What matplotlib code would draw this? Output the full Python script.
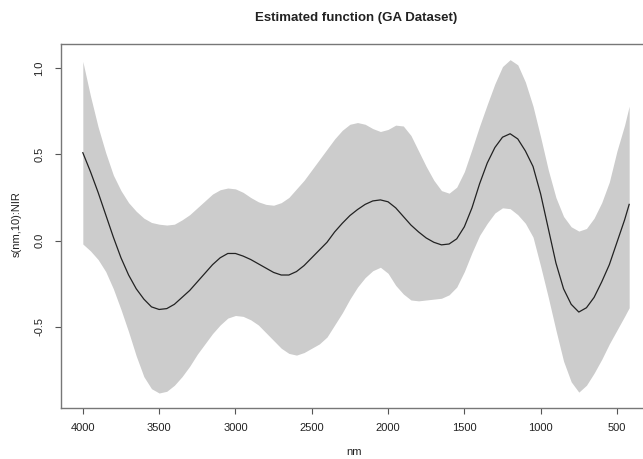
import matplotlib
matplotlib.use("Agg")
import matplotlib.pyplot as plt

plt.rcParams['font.family'] = ['Liberation Sans', 'DejaVu Sans']
plt.rcParams['axes.unicode_minus'] = False

# wavelength grid (nm) and values
nm = [4000, 3950, 3900, 3850, 3800, 3750, 3700, 3650, 3600, 3550,
      3500, 3450, 3400, 3350, 3300, 3250, 3200, 3150, 3100, 3050,
      3000, 2950, 2900, 2850, 2800, 2750, 2700, 2650, 2600, 2550,
      2500, 2450, 2400, 2350, 2300, 2250, 2200, 2150, 2100, 2050,
      2000, 1950, 1900, 1850, 1800, 1750, 1700, 1650, 1600, 1550,
      1500, 1450, 1400, 1350, 1300, 1250, 1200, 1150, 1100, 1050,
      1000, 950, 900, 850, 800, 750, 700, 650, 600, 550,
      500, 450, 420]
fit = [0.51, 0.40, 0.28, 0.15, 0.02, -0.10, -0.20, -0.28, -0.34, -0.385,
       -0.40, -0.395, -0.37, -0.33, -0.29, -0.24, -0.19, -0.14, -0.10, -0.075,
       -0.075, -0.09, -0.11, -0.135, -0.16, -0.185, -0.20, -0.20, -0.18, -0.145,
       -0.10, -0.055, -0.01, 0.05, 0.10, 0.145, 0.18, 0.21, 0.23, 0.236,
       0.225, 0.19, 0.14, 0.09, 0.05, 0.015, -0.01, -0.025, -0.02, 0.01,
       0.08, 0.19, 0.33, 0.45, 0.54, 0.60, 0.62, 0.59, 0.52, 0.43,
       0.27, 0.07, -0.13, -0.28, -0.37, -0.415, -0.39, -0.33, -0.24, -0.14,
       -0.01, 0.12, 0.21]
upper = [1.04, 0.84, 0.66, 0.51, 0.38, 0.29, 0.22, 0.17, 0.13, 0.105,
         0.095, 0.09, 0.095, 0.12, 0.15, 0.19, 0.23, 0.27, 0.295, 0.305,
         0.30, 0.28, 0.25, 0.225, 0.21, 0.205, 0.22, 0.25, 0.30, 0.35,
         0.41, 0.47, 0.53, 0.59, 0.64, 0.675, 0.685, 0.675, 0.65, 0.633,
         0.645, 0.67, 0.665, 0.61, 0.52, 0.43, 0.35, 0.29, 0.275, 0.31,
         0.40, 0.53, 0.665, 0.79, 0.91, 1.01, 1.05, 1.02, 0.92, 0.78,
         0.60, 0.41, 0.25, 0.14, 0.08, 0.055, 0.07, 0.13, 0.22, 0.34,
         0.52, 0.67, 0.78]
lower = [-0.02, -0.06, -0.11, -0.18, -0.28, -0.40, -0.53, -0.67, -0.79, -0.86,
         -0.885, -0.875, -0.84, -0.79, -0.73, -0.66, -0.60, -0.54, -0.49, -0.45,
         -0.435, -0.44, -0.46, -0.49, -0.535, -0.58, -0.625, -0.655, -0.665, -0.65,
         -0.625, -0.60, -0.56, -0.49, -0.42, -0.34, -0.27, -0.215, -0.175, -0.155,
         -0.19, -0.26, -0.31, -0.345, -0.35, -0.345, -0.34, -0.335, -0.315, -0.27,
         -0.18, -0.07, 0.03, 0.10, 0.16, 0.19, 0.185, 0.15, 0.10, 0.02,
         -0.15, -0.33, -0.52, -0.70, -0.82, -0.88, -0.84, -0.77, -0.69, -0.60,
         -0.52, -0.44, -0.39]

xticks = [4000, 3500, 3000, 2500, 2000, 1500, 1000, 500]
yticks = [-0.5, 0.0, 0.5, 1.0]

W, H = 643, 459
fig = plt.figure(figsize=(W / 100, H / 100), dpi=100)
# plot box in pixels: left 61, right 651 (cut off), top 44, bottom 408
ax = fig.add_axes([61 / W, (H - 408) / H, (651 - 61) / W, (408 - 44) / H])

ax.fill_between(nm, lower, upper, color='#cccccc', linewidth=0)
ax.plot(nm, fit, color='#222222', linewidth=0.9)

ax.set_xlim(4143, 277)
ax.set_ylim(-0.972, 1.141)
ax.set_xticks(xticks)
ax.set_xticklabels([str(v) for v in xticks])
ax.set_yticks(yticks)
ax.set_yticklabels(['%.1f' % v for v in yticks], rotation=90, va='center')

for s in ax.spines.values():
    s.set_color('#777777')
    s.set_linewidth(1.0)
ax.tick_params(axis='both', length=4, width=0.8, color='#555555',
               labelsize=8, labelcolor='#222222')
ax.tick_params(axis='x', pad=7)
ax.tick_params(axis='y', pad=8)

fig.text(356 / W, 1 - 18 / H, 'Estimated function (GA Dataset)',
         ha='center', va='center', fontsize=9.5, fontweight='bold', color='#222222')
fig.text(354 / W, 1 - 452 / H, 'nm', ha='center', va='center',
         fontsize=8, color='#222222')
fig.text(17 / W, 1 - 224 / H, 's(nm,10):NIR', ha='center', va='center',
         rotation=90, fontsize=8, color='#222222')

fig.savefig('out.png', dpi=100)
